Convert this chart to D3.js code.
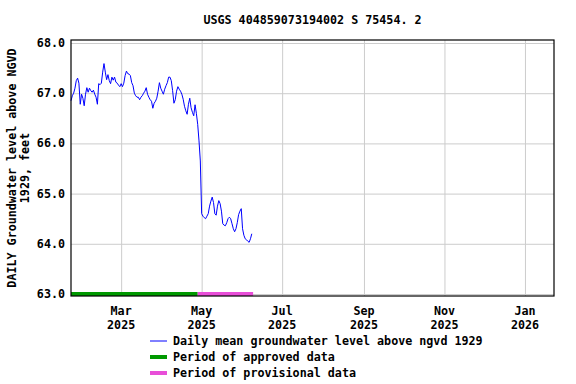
<!DOCTYPE html>
<html>
<head>
<meta charset="utf-8">
<script src="https://cdn.jsdelivr.net/npm/d3@7"></script>
<style>
  body { margin: 0; background: #fff; }
  text { font-family: "DejaVu Sans Mono", monospace; font-weight: bold; font-size: 11.7px; fill: #000; }
</style>
</head>
<body>
<svg id="chart" width="576" height="384"></svg>
<script>
// daily mean groundwater level, one value per day starting at startDate
let startDate = "2025-01-22";
let levels = [
  66.85, 66.95, 67.00, 67.10, 67.25, 67.30, 67.20, 66.78, 66.98, 66.90,
  66.75, 66.98, 67.11, 67.02, 67.10, 67.05, 67.02, 67.06, 66.98, 66.92,
  66.78, 67.19, 67.17, 67.20, 67.42, 67.59, 67.42, 67.27, 67.37, 67.25,
  67.19, 67.32, 67.26, 67.32, 67.22, 67.20, 67.16, 67.13, 67.19, 67.13,
  67.20, 67.35, 67.44, 67.39, 67.38, 67.35, 67.21, 67.15, 67.00, 66.95,
  66.92, 66.92, 66.87, 66.92, 66.95, 67.00, 67.04, 67.11, 66.98, 66.92,
  66.87, 66.84, 66.70, 66.80, 66.84, 66.90, 67.04, 67.21, 67.10, 67.04,
  66.98, 67.08, 67.15, 67.21, 67.32, 67.32, 67.25, 67.05, 66.80, 66.87,
  67.04, 67.13, 67.08, 67.04, 66.98, 66.88, 66.74, 66.65, 66.58, 66.78,
  66.90, 66.71, 66.62, 66.55, 66.77, 66.60, 66.38, 66.05, 65.65, 64.60,
  64.55, 64.52, 64.50, 64.55, 64.60, 64.75, 64.85, 64.93, 64.82, 64.60,
  64.57, 64.75, 64.86, 64.80, 64.65, 64.40, 64.37, 64.36, 64.42, 64.50,
  64.53, 64.50, 64.40, 64.30, 64.24, 64.30, 64.42, 64.58, 64.65, 64.70,
  64.30, 64.17, 64.10, 64.08, 64.05, 64.03, 64.10, 64.20
];

// approval periods
let periodNames = ["approved", "provisional"];
let periodStart = ["2025-01-22", "2025-04-28"];
let periodEnd = ["2025-04-28", "2025-06-09"];
let periodColors = ["#009900", "#e84ed8"];

let yTicks = [63, 64, 65, 66, 67, 68];
let xTicks = ["2025-03-01", "2025-05-01", "2025-07-01", "2025-09-01", "2025-11-01", "2026-01-01"];

let title = "USGS 404859073194002 S 75454. 2";
let yTitle = ["DAILY Groundwater level above NGVD", "1929, feet"];
let legendLabels = ["Daily mean groundwater level above ngvd 1929", "Period of approved data", "Period of provisional data"];

let parse = d3.utcParse("%Y-%m-%d");

let data = [];
for (let i = 0; i < levels.length; i++) {
  data.push({ date: d3.utcDay.offset(parse(startDate), i), value: levels[i] });
}

let svg = d3.select("#chart");

let plotLeft = 71, plotRight = 554, plotTop = 40, plotBottom = 296;

let x = d3.scaleUtc([parse("2025-01-22"), parse("2026-01-23")], [plotLeft, plotRight]);
let y = d3.scaleLinear([62.96, 68.06], [plotBottom, plotTop]);

// grid
svg.append("g")
  .attr("transform", "translate(0," + plotBottom + ")")
  .call(d3.axisBottom(x).tickValues(xTicks.map(parse)).tickSize(-(plotBottom - plotTop)).tickFormat(""))
  .call(g => g.select(".domain").remove())
  .selectAll("line").attr("stroke", "#cccccc");

svg.append("g")
  .attr("transform", "translate(" + plotLeft + ",0)")
  .call(d3.axisLeft(y).tickValues(yTicks).tickSize(-(plotRight - plotLeft)).tickFormat(""))
  .call(g => g.select(".domain").remove())
  .selectAll("line").attr("stroke", "#cccccc");

// y tick labels
svg.append("g")
  .selectAll("text")
  .data(yTicks)
  .join("text")
    .attr("x", plotLeft - 6)
    .attr("y", d => y(d) + 4)
    .attr("text-anchor", "end")
    .text(d => d.toFixed(1));

// x tick labels
let xl = svg.append("g")
  .selectAll("text")
  .data(xTicks.map(parse))
  .join("text")
    .attr("text-anchor", "middle");
xl.append("tspan").attr("x", d => x(d)).attr("y", 315).text(d => d3.utcFormat("%b")(d));
xl.append("tspan").attr("x", d => x(d)).attr("y", 329).text(d => d3.utcFormat("%Y")(d));

// approval periods
svg.append("g")
  .selectAll("line")
  .data(periodNames)
  .join("line")
    .attr("x1", (d, i) => x(parse(periodStart[i])))
    .attr("x2", (d, i) => x(parse(periodEnd[i])))
    .attr("y1", y(63))
    .attr("y2", y(63))
    .attr("stroke", (d, i) => periodColors[i])
    .attr("stroke-width", 4);

// data line
svg.append("path")
  .datum(data)
  .attr("fill", "none")
  .attr("stroke", "#0000ff")
  .attr("stroke-width", 1)
  .attr("d", d3.line().x(d => x(d.date)).y(d => y(d.value)));

// frame
svg.append("rect")
  .attr("x", plotLeft).attr("y", plotTop)
  .attr("width", plotRight - plotLeft).attr("height", plotBottom - plotTop)
  .attr("fill", "none").attr("stroke", "#000").attr("stroke-width", 1.2);

// title
svg.append("text")
  .attr("x", (plotLeft + plotRight) / 2)
  .attr("y", 24)
  .attr("text-anchor", "middle")
  .text(title);

// y title
svg.append("g")
  .selectAll("text")
  .data(yTitle)
  .join("text")
    .attr("transform", (d, i) => "translate(" + (16 + i * 13) + "," + ((plotTop + plotBottom) / 2) + ") rotate(-90)")
    .attr("text-anchor", "middle")
    .text(d => d);

// legend
let legendColors = ["#0000ff", periodColors[0], periodColors[1]];
let legendWidths = [1, 4, 4];
let legend = svg.append("g");
legendLabels.forEach(function (lab, i) {
  let ly = 341 + i * 16;
  legend.append("line")
    .attr("x1", 150).attr("x2", 167)
    .attr("y1", ly).attr("y2", ly)
    .attr("stroke", legendColors[i])
    .attr("stroke-width", legendWidths[i]);
  legend.append("text")
    .attr("x", 173)
    .attr("y", ly + 4)
    .text(lab);
});
</script>
</body>
</html>
